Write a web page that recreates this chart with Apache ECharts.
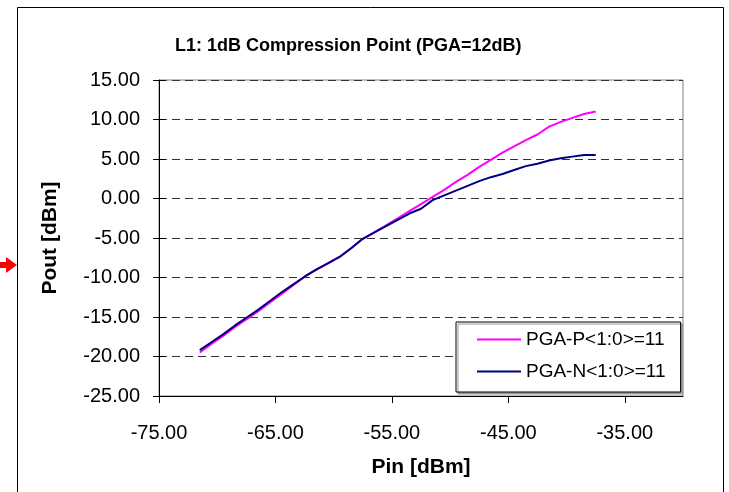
<!DOCTYPE html>
<html>
<head>
<meta charset="utf-8">
<script src="https://cdn.jsdelivr.net/npm/echarts@6/dist/echarts.min.js"></script>
<style>
  html, body { margin: 0; padding: 0; background: #fff; }
  #mybox { width: 729px; height: 492px; }
</style>
</head>
<body>
<div id="mybox"></div>
<script>
// data
var pinValues = [-71.5, -70.5, -69.5, -68.5, -67.5, -66.5, -65.5, -64.5, -63.5, -62.5,
    -61.5, -60.5, -59.5, -58.5, -57.5, -56.5, -55.5, -54.5, -53.5, -52.5,
    -51.5, -50.5, -49.5, -48.5, -47.5, -46.5, -45.5, -44.5, -43.5, -42.5,
    -41.5, -40.5, -39.5, -38.5, -37.5];
var poutP = [-19.5, -18.4, -17.4, -16.3, -15.3, -14.3, -13.2, -12.1, -11.0, -9.9,
    -9.0, -8.2, -7.4, -6.3, -5.1, -4.3, -3.4, -2.5, -1.6, -0.7,
    0.2, 1.1, 2.1, 3.0, 4.0, 4.9, 5.8, 6.6, 7.4, 8.1,
    9.1, 9.7, 10.2, 10.7, 11.0];
var poutN = [-19.2, -18.2, -17.2, -16.1, -15.1, -14.1, -13.0, -11.9, -10.9, -9.9,
    -9.0, -8.2, -7.4, -6.3, -5.1, -4.3, -3.5, -2.7, -1.9, -1.3,
    -0.2, 0.4, 1.0, 1.6, 2.2, 2.7, 3.1, 3.6, 4.1, 4.4,
    4.8, 5.1, 5.3, 5.5, 5.5];
var seriesNames = ['PGA-P<1:0>=11', 'PGA-N<1:0>=11'];
var xTicks = [-75, -65, -55, -45, -35];
var yTicks = [-25, -20, -15, -10, -5, 0, 5, 10, 15];

function pairs(xs, ys) {
    var out = [];
    for (var i = 0; i < xs.length; i++) out.push([xs[i], ys[i]]);
    return out;
}

var boldFont = 'Liberation Sans, Arial';

var mycharts = echarts.init(document.getElementById('mybox'));

var optionObj = {
    animation: false,
    backgroundColor: '#fff',
    title: {
        text: 'L1: 1dB Compression Point (PGA=12dB)',
        left: 175,
        top: 37,
        padding: 0,
        textStyle: {
            fontFamily: boldFont,
            fontWeight: 'bold',
            fontSize: 18,
            color: '#000'
        }
    },
    //外框和左边的红箭头
    graphic: [
        {
            type: 'rect',
            shape: { x: 17.5, y: 7.5, width: 706, height: 500 },
            style: { fill: 'none', stroke: '#000', lineWidth: 1 },
            z: 0
        },
        {
            type: 'polygon',
            shape: { points: [[0, 262], [6, 262], [6, 257], [17, 265], [6, 273], [6, 268], [0, 268]] },
            style: { fill: '#ff0000' }
        }
    ],
    legend: {
        orient: 'vertical',
        left: 456,
        top: 322,
        padding: [8, 15, 11, 21],
        itemGap: 13,
        itemWidth: 44,
        itemHeight: 2,
        icon: 'rect',
        backgroundColor: '#fff',
        borderColor: '#000',
        borderWidth: 1,
        shadowColor: '#999',
        shadowBlur: 0,
        shadowOffsetX: 2,
        shadowOffsetY: 2,
        textStyle: {
            fontFamily: 'Liberation Sans, Arial',
            fontSize: 19,
            color: '#000'
        },
        data: seriesNames
    },
    grid: {
        left: 159,
        top: 80,
        right: 46,
        bottom: 96,
        show: true,
        borderColor: '#808080',
        borderWidth: 1
    },
    xAxis: {
        type: 'value',
        min: -75,
        max: -30,
        interval: 10,
        name: 'Pin [dBm]',
        nameLocation: 'middle',
        nameGap: 61,
        nameTextStyle: {
            fontFamily: boldFont,
            fontWeight: 'bold',
            fontSize: 21,
            color: '#000'
        },
        axisLine: { onZero: false, lineStyle: { color: '#000', width: 1 } },
        axisTick: { length: 7, lineStyle: { color: '#000' }, customValues: xTicks },
        axisLabel: {
            margin: 27,
            fontFamily: 'Liberation Sans, Arial',
            fontSize: 20,
            color: '#000',
            customValues: xTicks,
            formatter: function (v) { return v.toFixed(2); }
        },
        splitLine: { show: false }
    },
    yAxis: [
        {
            type: 'value',
            min: -25,
            max: 15,
            interval: 5,
            name: 'Pout [dBm]',
            nameLocation: 'middle',
            nameGap: 98,
            nameTextStyle: {
                fontFamily: boldFont,
                fontWeight: 'bold',
                fontSize: 21,
                color: '#000'
            },
            axisLine: { show: true, onZero: false, lineStyle: { color: '#000', width: 1 } },
            axisTick: { show: true, length: 6, lineStyle: { color: '#000' }, customValues: yTicks },
            axisLabel: {
                margin: 19,
                fontFamily: 'Liberation Sans, Arial',
                fontSize: 20,
                color: '#000',
                customValues: yTicks,
                formatter: function (v) { return v.toFixed(2); }
            },
            splitLine: { show: true, lineStyle: { color: '#333', type: [8, 5], width: 1 } }
        },
        {
            //y轴刻度向内的部分
            type: 'value',
            min: -25,
            max: 15,
            interval: 5,
            position: 'left',
            axisLine: { show: false },
            axisTick: { show: true, inside: true, length: 6, lineStyle: { color: '#000' } },
            axisLabel: { show: false },
            splitLine: { show: false }
        }
    ],
    series: [
        {
            name: seriesNames[0],
            type: 'line',
            showSymbol: false,
            symbol: 'none',
            lineStyle: { color: '#ff00ff', width: 2 },
            itemStyle: { color: '#ff00ff' },
            data: pairs(pinValues, poutP)
        },
        {
            name: seriesNames[1],
            type: 'line',
            showSymbol: false,
            symbol: 'none',
            lineStyle: { color: '#000080', width: 2 },
            itemStyle: { color: '#000080' },
            data: pairs(pinValues, poutN)
        }
    ]
};

mycharts.setOption(optionObj);
</script>
</body>
</html>
